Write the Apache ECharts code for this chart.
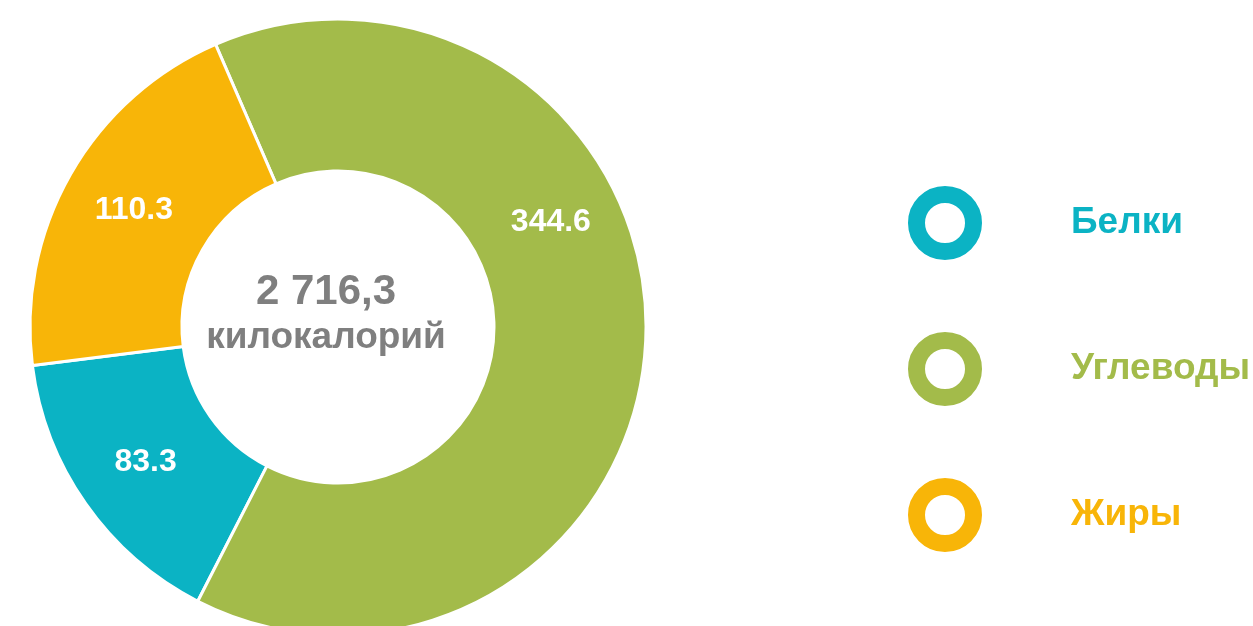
<!DOCTYPE html>
<html>
<head>
<meta charset="utf-8">
<script src="https://cdn.jsdelivr.net/npm/echarts@6/dist/echarts.min.js"></script>
<style>
  html, body { margin: 0; padding: 0; background: #fff; }
  #chart { width: 1253px; height: 626px; }
</style>
</head>
<body>
<div id="chart"></div>
<script>
const categories = ['Белки', 'Углеводы', 'Жиры']
const values = [83.3, 344.6, 110.3]
const colors = ['#0bb3c4', '#a3bb4a', '#f8b508']
const totalText = '2 716,3'
const unitText = 'килокалорий'

const ringIcon = 'path://M38,0A38,38 0 1 1 37.99,0ZM38,19A19,19 0 1 0 38.01,19Z'
const fontFamily = '"Liberation Sans", Arial, sans-serif'

const chart = echarts.init(document.getElementById('chart'))

const option = {
  backgroundColor: '#fff',
  animation: false,
  legend: {
    orient: 'vertical',
    left: 906,
    top: 184,
    padding: 0,
    itemWidth: 76,
    itemHeight: 76,
    itemGap: 68,
    icon: ringIcon,
    data: categories.map((name, i) => ({
      name,
      textStyle: { color: colors[i] }
    })),
    textStyle: {
      fontFamily,
      fontSize: 37,
      fontWeight: 'bold',
      padding: [10, 0, 0, 83]
    }
  },
  graphic: [
    {
      type: 'text',
      x: 326,
      y: 292,
      style: {
        text: totalText,
        align: 'center',
        verticalAlign: 'middle',
        fill: '#7f7f7f',
        font: 'bold 42px ' + fontFamily
      }
    },
    {
      type: 'text',
      x: 326,
      y: 338,
      style: {
        text: unitText,
        align: 'center',
        verticalAlign: 'middle',
        fill: '#7f7f7f',
        font: 'bold 37px ' + fontFamily
      }
    }
  ],
  series: [
    {
      type: 'pie',
      center: [338, 327],
      radius: [156, 308],
      startAngle: 187.2,
      clockwise: false,
      avoidLabelOverlap: false,
      itemStyle: {
        borderColor: '#fff',
        borderWidth: 3
      },
      label: {
        show: true,
        position: 'inside',
        color: '#fff',
        fontFamily,
        fontSize: 32,
        fontWeight: 'bold',
        formatter: (p) => p.value.toFixed(1)
      },
      labelLine: { show: false },
      emphasis: { disabled: true },
      data: categories.map((name, i) => ({
        name,
        value: values[i],
        itemStyle: { color: colors[i] },
        label: i === 1 ? { offset: [-22, -112] } : undefined
      }))
    }
  ]
}

chart.setOption(option)
</script>
</body>
</html>
